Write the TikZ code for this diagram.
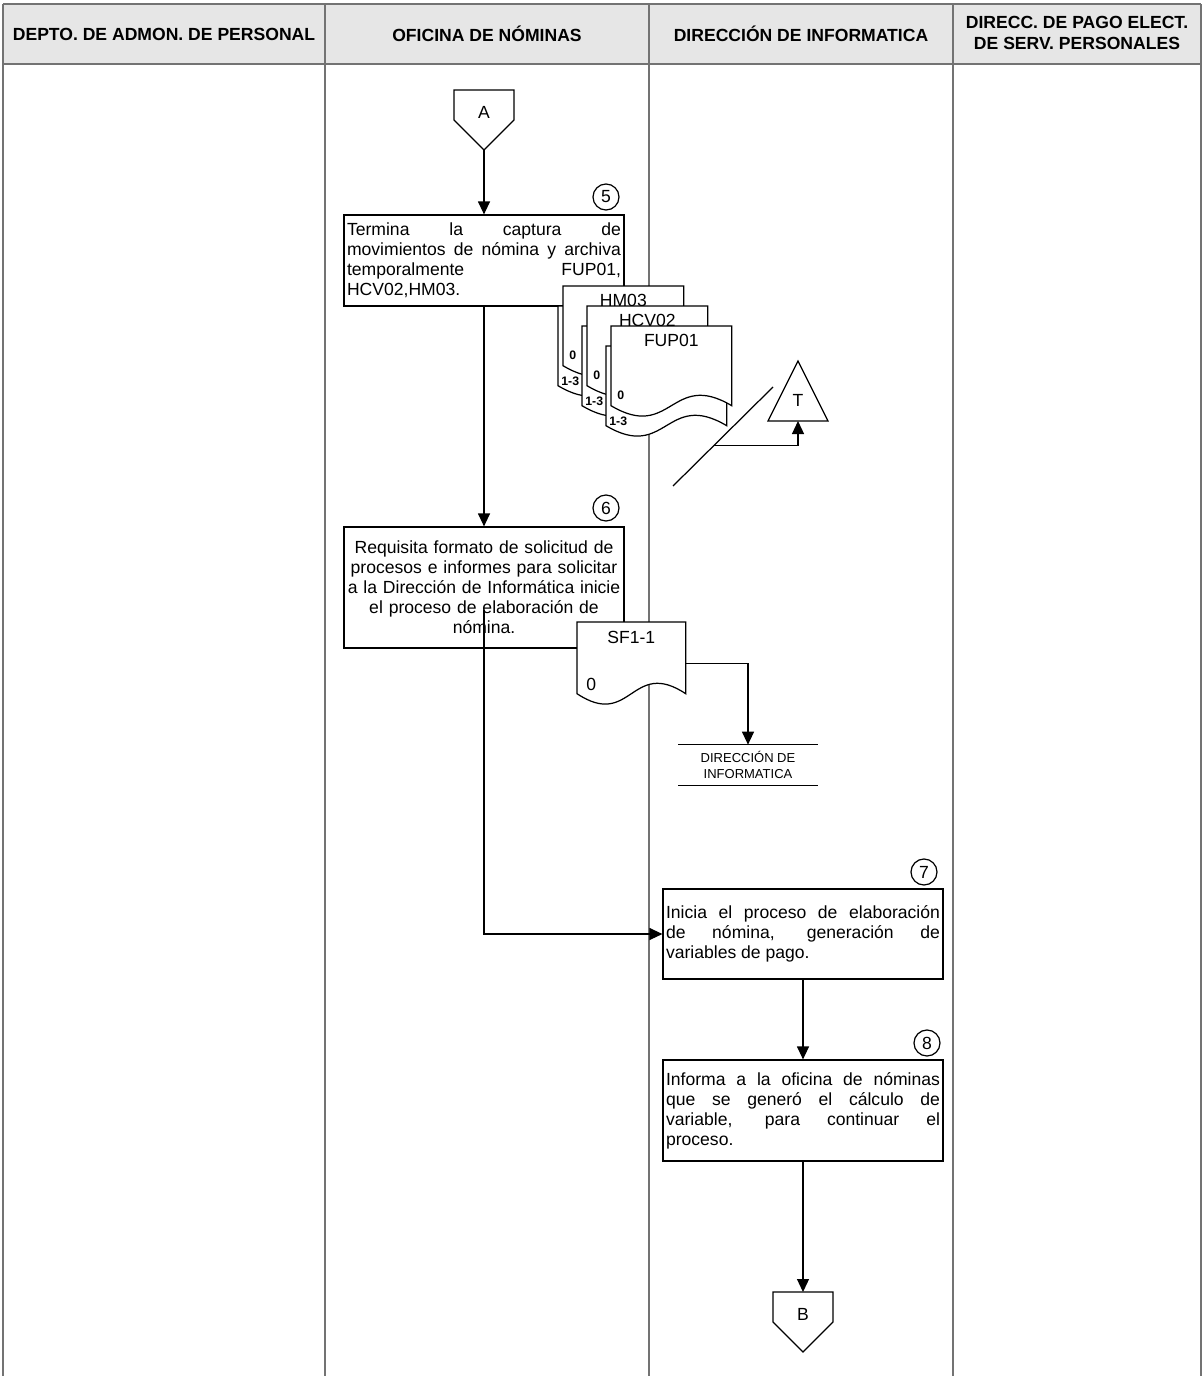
\documentclass[tikz,border=0pt]{standalone}
\usepackage{fontspec}
\setmainfont{Liberation Sans}
\usetikzlibrary{arrows.meta,calc}
\definecolor{encabezado}{RGB}{230,230,230}

% documento con borde inferior ondulado
\newcommand{\documento}[1]{%
  \draw[fill=white, line width=0.7pt] (#1.south west) -- (#1.north west) -- (#1.north east) -- (#1.south east)
    .. controls ($(#1.south)+(0,-36)$) and ($(#1.south)+(0,36)$) .. (#1.south west) -- cycle;}

% conector fuera de pagina (pentagono hacia abajo)
\newcommand{\conector}[1]{%
  \draw[line width=0.7pt] ($(#1)+(-30,-22)$) -- ($(#1)+(30,-22)$) -- ($(#1)+(30,8)$)
    -- ($(#1)+(0,38)$) -- ($(#1)+(-30,8)$) -- cycle;}

\begin{document}
\begin{tikzpicture}[x=0.02cm, y=-0.02cm,
        every node/.style={font=\fontsize{10}{11.4}\selectfont},
        titulo/.style={font=\bfseries\fontsize{10}{12}\selectfont, align=center},
        actbox/.style={draw, line width=0.7pt, fill=white, text width=5.48cm, inner xsep=0.06cm, inner ysep=0pt},
        numero/.style={circle, draw, line width=0.7pt, minimum size=0.52cm, inner sep=0pt},
        flow/.style={-{Triangle[length=0.26cm,width=0.24cm]}, line width=0.7pt},
        lane/.style={draw=black!55, line width=0.6pt},
        doc/.style={minimum width=2.4cm, minimum height=1.58cm, anchor=north west, inner sep=0pt},
        copia/.style={font=\bfseries\fontsize{7}{8}\selectfont, anchor=west, inner sep=0pt},
        conn/.style={inner sep=0pt}
    ]
        \useasboundingbox (0,0) rectangle (1203,1376);

        % Encabezado y carriles
        \fill[encabezado] (3,4) rectangle (1201,64);
        \draw[lane] (3,4) -- (1201,4);
        \draw[lane] (3,64) -- (1201,64);
        \foreach \x in {3,325,649,953,1201} \draw[lane] (\x,4) -- (\x,1376);

        \node[titulo] (h1) at (164,34) {DEPTO. DE ADMON. DE PERSONAL};
        \node[titulo] (h2) at (487,34) {OFICINA DE NÓMINAS};
        \node[titulo] (h3) at (801,34) {DIRECCIÓN DE INFORMATICA};
        \node[titulo] (h4) at (1077,33) {DIRECC. DE PAGO ELECT.\\DE SERV. PERSONALES};

        % Conector A
        \node[conn] (A) at (484,112) {A};
        \conector{A}
        \coordinate (Apunta) at ($(A)+(0,38)$);

        % Paso 5
        \node[numero] (n5) at (606,197) {5};
        \node[actbox, align=justify, minimum height=1.82cm] (p5) at (484,260.5)
            {Termina la captura de\linebreak movimientos de nómina y archiva\linebreak temporalmente FUP01,\linebreak HCV02,HM03.};
        \draw[flow] (Apunta) -- (p5);

        % Formatos archivados
        \node[doc] (hm-b) at (558,306) {};
        \documento{hm-b}
        \node[doc] (hm) at (563,286) {};
        \documento{hm}
        \node (hmtxt) at ($(hm.north)+(0,14)$) {HM03};
        \node[copia] (hm0) at ($(hm.south west)+(6,-10)$) {0};
        \node[copia] (hm13) at ($(hm-b.south west)+(3,-4)$) {1-3};

        \node[doc] (hcv-b) at (582,326) {};
        \documento{hcv-b}
        \node[doc] (hcv) at (587,306) {};
        \documento{hcv}
        \node (hcvtxt) at ($(hcv.north)+(0,14)$) {HCV02};
        \node[copia] (hcv0) at ($(hcv.south west)+(6,-10)$) {0};
        \node[copia] (hcv13) at ($(hcv-b.south west)+(3,-4)$) {1-3};

        \node[doc] (fup-b) at (606,346) {};
        \documento{fup-b}
        \node[doc] (fup) at (611,326) {};
        \documento{fup}
        \node (fuptxt) at ($(fup.north)+(0,14)$) {FUP01};
        \node[copia] (fup0) at ($(fup.south west)+(6,-10)$) {0};
        \node[copia] (fup13) at ($(fup-b.south west)+(3,-4)$) {1-3};

        % Archivo temporal T
        \coordinate (barra1) at (673,486);
        \coordinate (barra2) at (773,387);
        \draw[line width=0.7pt] (barra1) -- (barra2);
        \node[conn] (T) at (798,400) {T};
        \draw[line width=0.7pt] ($(T)+(0,-39)$) -- ($(T)+(30,21)$) -- ($(T)+(-30,21)$) -- cycle;
        \coordinate (Tbase) at ($(T)+(0,21)$);
        \coordinate (barraT) at ($(barra1)!0.41!(barra2)$);
        \draw[flow] (barraT) -| (Tbase);

        % Paso 6
        \node[numero] (n6) at (606,508) {6};
        \node[actbox, align=center, minimum height=2.42cm] (p6) at (484,587.5)
            {Requisita formato de solicitud de\\ procesos e informes para solicitar\\ a la Dirección de Informática inicie\\ el proceso de elaboración de\\ nómina.};
        \draw[flow] (p5) -- (p6);

        % Solicitud SF1-1
        \node[doc, minimum width=2.16cm, minimum height=1.42cm] (sf) at (577,622) {};
        \documento{sf}
        \node (sftxt) at ($(sf.north)+(0,15)$) {SF1-1};
        \node[anchor=west, inner sep=0pt] (sf0) at ($(sf.south west)+(9,-9)$) {0};

        \node[font=\fontsize{7.4}{9}\selectfont, align=center, minimum width=2.78cm, minimum height=0.8cm, inner sep=0pt] (dir) at (748,765) {DIRECCIÓN DE\\INFORMATICA};
        \draw[line width=0.7pt] (dir.north west) -- (dir.north east) (dir.south west) -- (dir.south east);
        \draw[flow] ($(sf.east)+(0,6)$) -| (dir.north);

        % Paso 7
        \node[numero] (n7) at (924,872) {7};
        \node[actbox, align=justify, minimum height=1.8cm] (p7) at (803,934)
            {Inicia el proceso de elaboración\linebreak de nómina, generación de\linebreak variables de pago.};
        \coordinate (p6sal) at (484,610);
        \draw[flow] (p6sal) |- (p7);

        % Paso 8
        \node[numero] (n8) at (927,1043) {8};
        \node[actbox, align=justify, minimum height=2.02cm] (p8) at (803,1110.5)
            {Informa a la oficina de nóminas\linebreak que se generó el cálculo de\linebreak variable, para continuar el\linebreak proceso.};
        \draw[flow] (p7) -- (p8);

        % Conector B
        \node[conn] (B) at (803,1314) {B};
        \conector{B}
        \coordinate (Btope) at ($(B)+(0,-22)$);
        \draw[flow] (p8) -- (Btope);
    \end{tikzpicture}
\end{document}
